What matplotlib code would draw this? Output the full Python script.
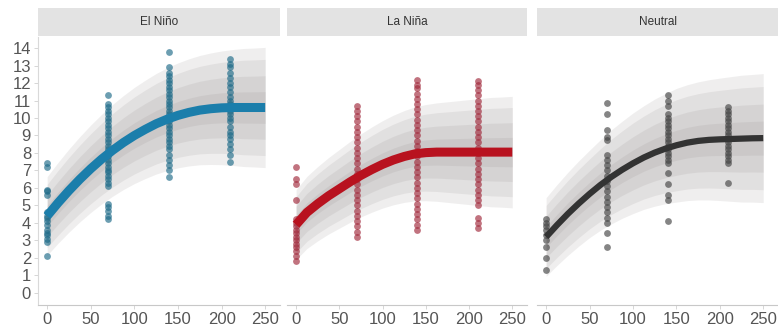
import numpy as np
import matplotlib
matplotlib.use("Agg")
import matplotlib.pyplot as plt

plt.rcParams['font.family'] = ['Liberation Sans', 'DejaVu Sans']

# fase ENSO de cada painel
fases = ['El Niño', 'La Niña', 'Neutral']
cores_linha = ['#1b7eab', '#b8121f', '#333333']
cores_ponto = ['#1d6a88', '#a0283a', '#444444']
espessura = [6.5, 6.5, 4.5]

# nós da curva ajustada (eixo x)
x_curva = [0, 12.5, 25, 37.5, 50, 62.5, 75, 87.5, 100, 112.5, 125,
           137.5, 150, 162.5, 175, 187.5, 200, 212.5, 225, 237.5, 250]

curva_nino = [4.4, 5.15, 5.85, 6.5, 7.1, 7.65, 8.15, 8.6, 9.0, 9.35, 9.67,
              9.93, 10.15, 10.32, 10.45, 10.53, 10.58, 10.6, 10.6, 10.6, 10.6]
curva_nina = [3.9, 4.6, 5.1, 5.55, 5.95, 6.35, 6.72, 7.05, 7.35, 7.6, 7.8,
              7.95, 8.02, 8.05, 8.05, 8.05, 8.05, 8.05, 8.05, 8.05, 8.05]
curva_neutro = [3.2, 3.88, 4.52, 5.11, 5.66, 6.17, 6.63, 7.04, 7.41, 7.74, 8.02,
                8.25, 8.44, 8.59, 8.69, 8.75, 8.78, 8.8, 8.82, 8.84, 8.85]

# meia-largura do intervalo externo em cada nó
faixa_nino = [1.8, 1.85, 1.9, 1.95, 2.0, 2.05, 2.1, 2.15, 2.2, 2.25, 2.3,
              2.35, 2.4, 2.45, 2.5, 2.55, 2.6, 2.65, 2.7, 2.72, 2.75]
faixa_nina = [1.6, 1.65, 1.7, 1.75, 1.8, 1.85, 1.9, 1.95, 2.0, 2.05, 2.1,
              2.15, 2.2, 2.25, 2.3, 2.35, 2.4, 2.45, 2.5, 2.52, 2.55]
faixa_neutro = [1.8, 1.85, 1.9, 1.95, 2.0, 2.07, 2.15, 2.22, 2.3, 2.37, 2.45,
                2.52, 2.6, 2.65, 2.7, 2.75, 2.8, 2.85, 2.9, 2.92, 2.95]

# níveis dos intervalos (fração da faixa externa)
niveis = [1.25, 1.0, 0.66, 0.33]

# observações por momento de coleta
x_obs = [0, 70, 140, 210]

obs_nino = {
    0: [2.1, 2.9, 3.1, 3.3, 3.4, 3.6, 3.9, 4.1, 4.3, 4.4, 4.6, 5.6, 5.8, 5.9, 7.2, 7.4],
    70: [4.2, 4.4, 4.7, 4.9, 5.1, 6.1, 6.3, 6.5, 6.7, 6.9, 7.0, 7.2, 7.4, 7.6, 7.8,
         8.0, 8.2, 8.4, 8.6, 8.8, 9.0, 9.2, 9.4, 9.6, 9.8, 10.0, 10.2, 10.4, 10.6,
         10.8, 11.3],
    140: [6.6, 7.0, 7.3, 7.6, 7.9, 8.2, 8.4, 8.6, 8.8, 9.0, 9.2, 9.4, 9.6, 9.8,
          10.0, 10.2, 10.4, 10.6, 10.8, 11.0, 11.2, 11.4, 11.6, 11.8, 12.0, 12.2,
          12.4, 12.6, 12.9, 13.8],
    210: [7.5, 7.9, 8.2, 8.5, 8.8, 9.0, 9.2, 9.5, 9.8, 10.0, 10.2, 10.4, 10.6,
          10.8, 11.0, 11.2, 11.5, 11.8, 12.0, 12.3, 12.6, 12.9, 13.1, 13.4],
}

obs_nina = {
    0: [1.8, 2.1, 2.4, 2.6, 2.8, 3.0, 3.2, 3.4, 3.6, 3.8, 4.0, 4.2, 5.3, 6.2, 6.5, 7.2],
    70: [3.2, 3.5, 3.8, 4.1, 4.4, 4.7, 5.0, 5.3, 5.6, 5.9, 6.2, 6.5, 6.8, 7.1,
         7.4, 7.7, 8.0, 8.3, 8.6, 8.9, 9.2, 9.5, 9.8, 10.1, 10.4, 10.7],
    140: [3.6, 3.9, 4.2, 4.5, 4.8, 5.1, 5.4, 5.7, 6.0, 6.3, 6.6, 6.9, 7.2, 7.5,
          7.8, 8.1, 8.4, 8.7, 9.0, 9.3, 9.6, 9.9, 10.2, 10.5, 10.8, 11.1, 11.4,
          11.7, 11.9, 12.2],
    210: [3.7, 4.0, 4.3, 5.0, 5.3, 5.6, 5.9, 6.2, 6.5, 6.8, 7.1, 7.4, 7.7, 8.0,
          8.3, 8.6, 8.9, 9.2, 9.5, 9.8, 10.1, 10.4, 10.7, 11.0, 11.3, 11.6,
          11.9, 12.1],
}

obs_neutro = {
    0: [1.3, 2.0, 2.6, 3.0, 3.3, 3.6, 3.8, 4.0, 4.2],
    70: [2.6, 3.4, 4.0, 4.3, 4.6, 4.9, 5.2, 5.5, 5.8, 6.1, 6.4, 6.7, 7.0, 7.3,
         7.6, 7.9, 8.75, 8.9, 9.3, 10.2, 10.85],
    140: [4.1, 5.3, 5.6, 6.2, 6.85, 7.4, 7.6, 7.8, 8.0, 8.2, 8.4, 8.6, 8.8, 9.0,
          9.2, 9.4, 9.6, 9.8, 10.0, 10.2, 10.7, 11.0, 11.3],
    210: [6.3, 7.4, 7.6, 7.8, 8.0, 8.2, 8.4, 8.6, 8.8, 9.0, 9.2, 9.4, 9.6, 9.8,
          10.0, 10.2, 10.4, 10.6],
}

curvas = [curva_nino, curva_nina, curva_neutro]
faixas = [faixa_nino, faixa_nina, faixa_neutro]
observacoes = [obs_nino, obs_nina, obs_neutro]

fig = plt.figure(figsize=(7.78, 3.32), dpi=100)
W, H = 778, 332

# posições dos painéis em pixels (esquerda, direita)
paineis_px = [(38, 280), (287, 527), (537, 778)]
topo_px, base_px, faixa_titulo_px = 37, 305, 8

for i, fase in enumerate(fases):
    esq, dir_ = paineis_px[i]
    ax = fig.add_axes([esq / W, (H - base_px) / H, (dir_ - esq) / W, (base_px - topo_px) / H])

    curva = np.array(curvas[i])
    faixa = np.array(faixas[i])

    # intervalos em cinza, do mais largo ao mais estreito
    for nivel in niveis:
        ax.fill_between(x_curva, curva - nivel * faixa, curva + nivel * faixa,
                        color='#8a8282', alpha=0.13, linewidth=0, zorder=1)

    for x in x_obs:
        ys = observacoes[i][x]
        ax.scatter([x] * len(ys), ys, s=24, color=cores_ponto[i], alpha=0.65,
                   linewidths=0, zorder=2)

    ax.plot(x_curva, curva, color=cores_linha[i], lw=espessura[i],
            solid_capstyle='butt', solid_joinstyle='round', zorder=3)

    ax.set_xlim(-10.5, 267)
    ax.set_ylim(-0.69, 14.63)
    ax.set_xticks([0, 50, 100, 150, 200, 250])
    ax.set_yticks(range(0, 15))
    if i > 0:
        ax.tick_params(axis='y', left=False, labelleft=False)

    for lado in ['top', 'right']:
        ax.spines[lado].set_visible(False)
    ax.spines['left'].set_visible(i == 0)
    ax.spines['left'].set_color('#d9d9d9')
    ax.spines['bottom'].set_color('#c8c8c8')
    ax.spines['bottom'].set_linewidth(0.8)
    ax.tick_params(axis='both', colors='#d0d0d0', labelcolor='#555555',
                   labelsize=12, length=3, width=0.6, pad=2)

    # faixa do título do painel
    tit = fig.add_axes([esq / W, (H - topo_px + 1) / H, (dir_ - esq) / W,
                        (topo_px - 1 - faixa_titulo_px) / H])
    tit.set_facecolor('#e3e3e3')
    tit.set_xticks([])
    tit.set_yticks([])
    for s in tit.spines.values():
        s.set_visible(False)
    tit.text(0.5, 0.5, fase, ha='center', va='center', fontsize=8.5,
             color='#333333', transform=tit.transAxes)

fig.savefig('out.png', dpi=100)
